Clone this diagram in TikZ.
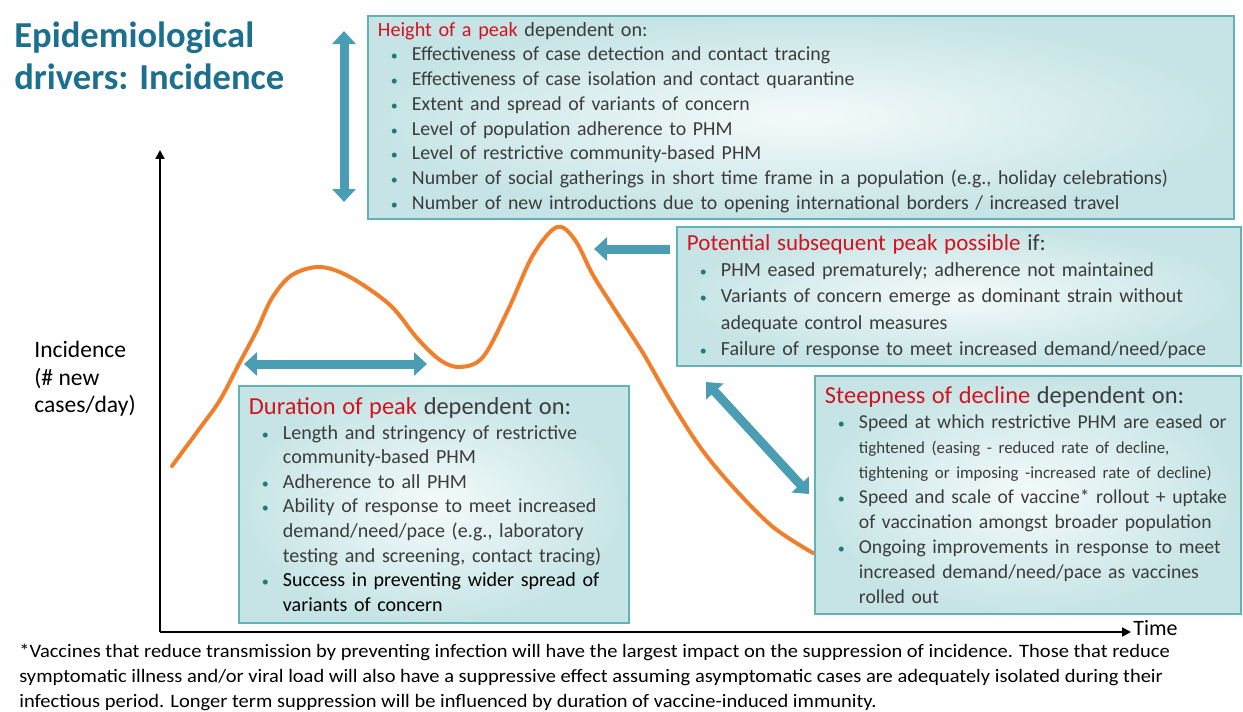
\documentclass[tikz,border=0pt]{standalone}
\usepackage{fontspec}
\setmainfont{Carlito}
\usetikzlibrary{arrows.meta}

\definecolor{titleblue}{HTML}{1D6F8E}
\definecolor{hred}{HTML}{D4121F}
\definecolor{txt}{HTML}{3C3C3C}
\definecolor{bulc}{HTML}{1F7A7A}
\definecolor{boxline}{HTML}{62B3B8}
\definecolor{boxin}{HTML}{F4FAFA}
\definecolor{boxout}{HTML}{C6E4E5}
\definecolor{arrowc}{HTML}{4A9DB3}
\definecolor{curvec}{HTML}{F07F2C}

\tikzstyle{infobox}=[draw=boxline, line width=1.1pt, inner color=boxin, outer color=boxout, anchor=north west, align=left, inner xsep=0.2cm, inner ysep=0pt, text=txt]
\tikzstyle{blockarrow}=[draw=arrowc, line width=0.18cm, >={Triangle[width=0.46cm,length=0.26cm]}]
\tikzstyle{axis}=[draw, line width=1.1pt, ->, >={Triangle[width=5pt,length=5pt]}]
\tikzstyle{incurve}=[draw=curvec, line width=0.08cm, line cap=round]

% bullet and continuation line
\newcommand{\itm}{\hspace*{0.26cm}\makebox[0.42cm][l]{\textcolor{bulc}{\fontsize{8pt}{8pt}\selectfont\textbullet}}}
\newcommand{\cnt}{\hspace*{0.68cm}}
\newcommand{\hd}[1]{\textcolor{hred}{#1}}

\begin{document}
\begin{tikzpicture}[x=0.02cm, y=-0.02cm]
\useasboundingbox (0,0) rectangle (1243,711);

% title and axis label
\node[anchor=north west, align=left, inner sep=0pt, text=titleblue, font=\bfseries\fontsize{20.8pt}{24.3pt}\selectfont] (title) at (14,21) {Epidemiological\\drivers: Incidence};
\node[anchor=north west, align=left, inner sep=0pt, text=black, font=\fontsize{13.4pt}{15.6pt}\selectfont] (ylabel) at (34,341) {Incidence\\(\# new\\cases/day)};

% axes
\coordinate (origin) at (160,632);
\coordinate (ytip) at (160,150);
\coordinate (xtip) at (1131,632);
\draw[axis] (origin) -- (ytip);
\draw[axis] (origin) -- (xtip);
\node[anchor=west, inner sep=0pt, font=\fontsize{12.5pt}{13pt}\selectfont] (timelabel) at ([xshift=0.04cm, yshift=0.07cm]xtip) {Time};

% incidence curve
\draw[incurve] plot[smooth, tension=0.55] coordinates {(172,466) (200,428) (220,400) (240,362) (257,330) (272,298) (292,275) (320,267) (350,277) (390,305) (417,338) (440,360) (460,367) (483,357) (508,310) (533,255) (557,227) (575,240) (593,275) (617,313) (643,353) (670,400) (700,447) (733,487) (773,527) (813,553)};

% boxes
\node[infobox, minimum height=4.06cm, text width=16.92cm, font=\fontsize{11.3pt}{14.1pt}\selectfont] (hpeak) at (367,15) {%
{\fontsize{11.5pt}{14.1pt}\selectfont\hd{Height of a peak} dependent on:}\\
\itm Effectiveness of case detection and contact tracing\\
\itm Effectiveness of case isolation and contact quarantine\\
\itm Extent and spread of variants of concern\\
\itm Level of population adherence to PHM\\
\itm Level of restrictive community-based PHM\\
\itm Number of social gatherings in short time frame in a population (e.g., holiday celebrations)\\
\itm Number of new introductions due to opening international borders / increased travel};

\node[infobox, minimum height=2.78cm, text width=10.88cm, font=\fontsize{11.4pt}{14.9pt}\selectfont] (subpeak) at (676,226) {%
{\fontsize{13.1pt}{14.9pt}\selectfont\hd{Potential subsequent peak possible} if:}\\
\itm PHM eased prematurely; adherence not maintained\\
\itm Variants of concern emerge as dominant strain without\\
\cnt adequate control measures\\
\itm Failure of response to meet increased demand/need/pace};

\node[infobox, minimum height=4.74cm, text width=7.4cm, font=\fontsize{11.4pt}{14pt}\selectfont] (duration) at (238,385) {%
{\fontsize{13.9pt}{14pt}\selectfont\hd{Duration of peak} dependent on:}\\
\itm Length and stringency of restrictive\\
\cnt community-based PHM\\
\itm Adherence to all PHM\\
\itm Ability of response to meet increased\\
\cnt demand/need/pace (e.g., laboratory\\
\cnt testing and screening, contact tracing)\\
\itm \textcolor{black}{Success in preventing wider spread of}\\
\cnt \textcolor{black}{variants of concern}};

\node[infobox, minimum height=4.76cm, text width=8.12cm, font=\fontsize{11.2pt}{14.2pt}\selectfont] (decline) at (814,375) {%
{\fontsize{13.9pt}{14.2pt}\selectfont\hd{Steepness of decline} dependent on:}\\
\itm Speed at which restrictive PHM are eased or\\
\cnt {\fontsize{9.6pt}{14.2pt}\selectfont tightened (easing - reduced rate of decline,}\\
\cnt {\fontsize{9.6pt}{14.2pt}\selectfont tightening or imposing -increased rate of decline)}\\
\itm Speed and scale of vaccine* rollout + uptake\\
\cnt of vaccination amongst broader population\\
\itm Ongoing improvements in response to meet\\
\cnt increased demand/need/pace as vaccines\\
\cnt rolled out};

% block arrows
\coordinate (htop) at (344,31);
\coordinate (hbot) at (344,202);
\coordinate (dleft) at (244,364);
\coordinate (dright) at (427,364);
\coordinate (ptail) at (670,249);
\coordinate (phead) at (594,249);
\coordinate (sup) at (706,382);
\coordinate (sdown) at (809,494);
\draw[blockarrow, <->] (htop) -- (hbot);
\draw[blockarrow, <->] (dleft) -- (dright);
\draw[blockarrow, ->] (ptail) -- (phead);
\draw[blockarrow, <->] (sup) -- (sdown);

% footnote, set a little narrow
\node[anchor=north west, align=left, inner sep=0pt, text=black, font=\addfontfeature{FakeStretch=1.079}\fontsize{10.8pt}{14pt}\selectfont] (note) at (19,644) {%
*Vaccines that reduce transmission by preventing infection will have the largest impact on the suppression of incidence. Those that reduce\\
symptomatic illness and/or viral load will also have a suppressive effect assuming asymptomatic cases are adequately isolated during their\\
infectious period. Longer term suppression will be influenced by duration of vaccine-induced immunity.};

\end{tikzpicture}
\end{document}
